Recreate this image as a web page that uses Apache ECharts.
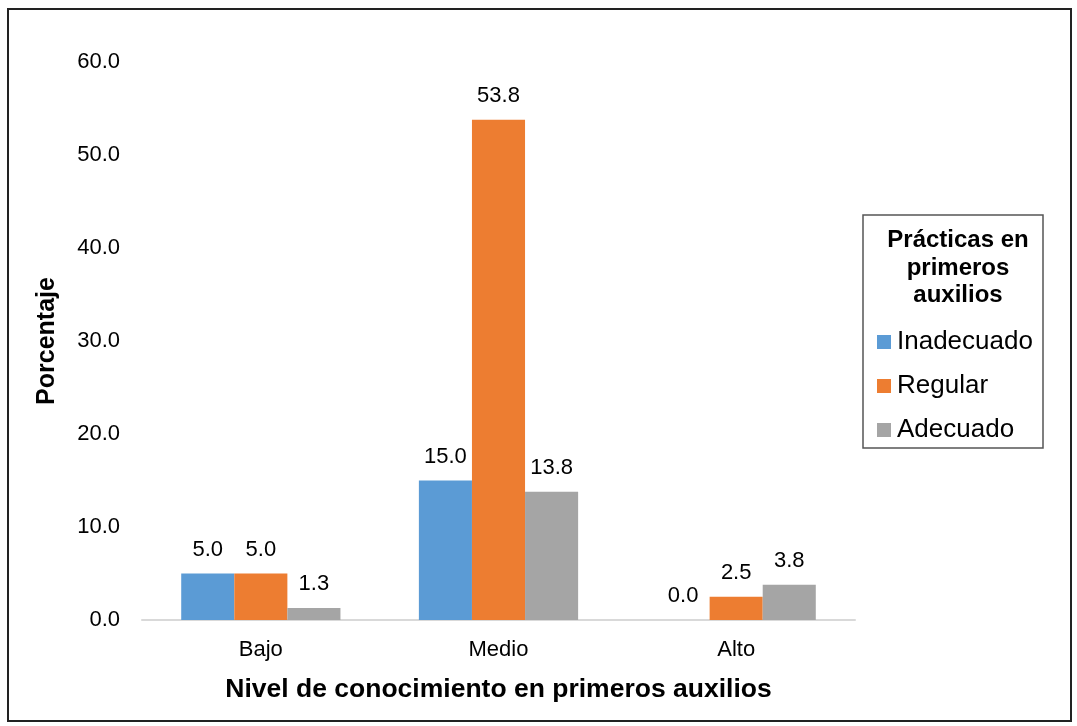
<!DOCTYPE html>
<html>
<head>
<meta charset="utf-8">
<script src="https://cdn.jsdelivr.net/npm/echarts@6/dist/echarts.min.js"></script>
<style>
	html, body { margin: 0; padding: 0; background: #fff; }
	#main { width: 1077px; height: 726px; }
</style>
</head>
<body>
<div id="main"></div>
<script>
// 数据
var categories = ['Bajo', 'Medio', 'Alto']
var inadecuado = [5.0, 15.0, 0.0]
var regular = [5.0, 53.8, 2.5]
var adecuado = [1.3, 13.8, 3.8]
var seriesNames = ['Inadecuado', 'Regular', 'Adecuado']
var colors = ['#5B9BD5', '#ED7D31', '#A5A5A5']

var font = 'Liberation Sans, Arial, sans-serif'

function makeSeries(name, values, color) {
	return {
		name: name,
		type: 'bar',
		data: values,
		barGap: '0%',
		barCategoryGap: '33%',
		itemStyle: { color: color },
		label: {
			show: true,
			position: 'top',
			distance: 13,
			color: '#000',
			fontSize: 22,
			fontFamily: font,
			formatter: function (p) { return p.value.toFixed(1) }
		}
	}
}

var myChart = echarts.init(document.getElementById('main'))
myChart.setOption({
	animation: false,
	textStyle: { fontFamily: font },
	grid: { left: 142, top: 62, right: 222, bottom: 106 },
	xAxis: {
		type: 'category',
		data: categories,
		axisLine: { lineStyle: { color: '#D9D9D9', width: 2 } },
		axisTick: { show: false },
		axisLabel: { color: '#000', fontSize: 22, margin: 19, fontFamily: font },
		name: 'Nivel de conocimiento en primeros auxilios',
		nameLocation: 'middle',
		nameGap: 56,
		nameTextStyle: { color: '#000', fontSize: 26.5, fontWeight: 'bold', fontFamily: font }
	},
	yAxis: {
		type: 'value',
		min: 0,
		max: 60,
		interval: 10,
		axisLine: { show: false },
		axisTick: { show: false },
		splitLine: { show: false },
		axisLabel: {
			color: '#000', fontSize: 22, margin: 22, fontFamily: font,
			formatter: function (v) { return v.toFixed(1) }
		},
		name: 'Porcentaje',
		nameLocation: 'middle',
		nameGap: 82,
		nameTextStyle: { color: '#000', fontSize: 25, fontWeight: 'bold', fontFamily: font }
	},
	legend: {
		orient: 'vertical',
		left: 872,
		top: 324,
		itemWidth: 14,
		itemHeight: 14,
		itemGap: 18,
		icon: 'rect',
		data: seriesNames,
		textStyle: { color: '#000', fontSize: 26, fontFamily: font, padding: [0, 0, 0, 1] }
	},
	graphic: [
		{
			type: 'rect',
			shape: { x: 8, y: 9, width: 1063, height: 712 },
			style: { fill: 'none', stroke: '#222', lineWidth: 2 },
			silent: true
		},
		{
			type: 'rect',
			shape: { x: 863, y: 215, width: 180, height: 233 },
			style: { fill: 'none', stroke: '#555', lineWidth: 1.5 },
			silent: true
		},
		{
			type: 'text',
			x: 958,
			y: 227,
			style: {
				text: 'Prácticas en\nprimeros\nauxilios',
				align: 'center',
				fill: '#000',
				font: 'bold 24px ' + font,
				lineHeight: 27.5
			},
			silent: true
		}
	],
	series: [
		makeSeries(seriesNames[0], inadecuado, colors[0]),
		makeSeries(seriesNames[1], regular, colors[1]),
		makeSeries(seriesNames[2], adecuado, colors[2])
	]
})
</script>
</body>
</html>
